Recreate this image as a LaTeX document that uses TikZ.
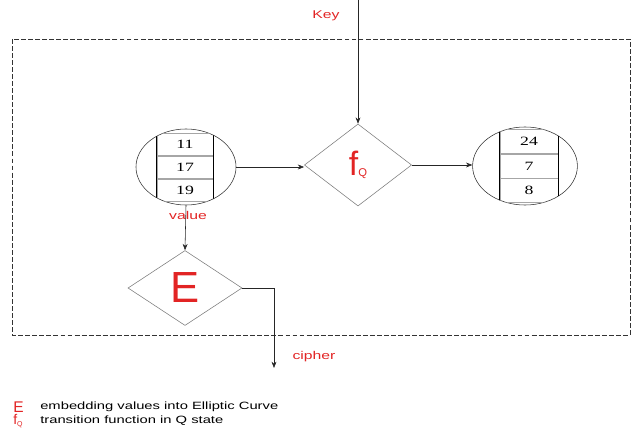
\documentclass[tikz,border=0pt]{standalone}
\usepackage{fontspec}
\usepackage{graphicx}
\setmainfont{Liberation Sans}
\newfontfamily\numfont{Liberation Serif}
\usetikzlibrary{shapes.geometric,arrows.meta,positioning}

\definecolor{keyred}{RGB}{226,36,36}
\definecolor{edgegray}{RGB}{125,125,125}
\newcommand{\wtxt}[1]{\scalebox{1.4}[1]{#1}}

\tikzset{
  lbl/.style={text=keyred, inner sep=0, font=\fontsize{8}{9}\selectfont},
  legend/.style={inner sep=0, anchor=west, font=\fontsize{7.5}{9}\selectfont},
  proc/.style={diamond, draw=edgegray, inner sep=0, text=keyred},
  store/.style={ellipse, draw=black!80, inner sep=0},
  cell/.style={draw=black!35, inner sep=0, font=\numfont\fontsize{9}{10}\selectfont},
  flow/.style={draw=black!85, -{Stealth[length=4.5pt,width=3.5pt]}}
}

\begin{document}
\begin{tikzpicture}[x=0.025cm, y=-0.025cm]
\useasboundingbox (0,0) rectangle (632,432);

% outer frame
\draw[black!80, dash pattern=on 3.5pt off 1.5pt] (12,39) rectangle (630,335);

% stores
\node[store, minimum width=2.5cm, minimum height=1.9cm] (vin) at (186,167) {};
\node[store, minimum width=2.62cm, minimum height=1.95cm] (vout) at (525,166) {};

\begin{scope}
\clip (vin.center) ellipse [x radius=1.25cm, y radius=0.95cm];
\node[cell, minimum width=1.4cm, minimum height=0.56cm] (a2) at (185,167.5) {\wtxt{17}};
\node[cell, minimum width=1.4cm, minimum height=0.56cm, above=0pt of a2] (a1) {\wtxt{11}};
\node[cell, minimum width=1.4cm, minimum height=0.56cm, below=0pt of a2] (a3) {\wtxt{19}};
\draw (a1.north west) -- (a3.south west) (a1.north east) -- (a3.south east);
\end{scope}

\begin{scope}
\clip (vout.center) ellipse [x radius=1.31cm, y radius=0.975cm];
\node[cell, minimum width=1.45cm, minimum height=0.6cm] (b2) at (529,166) {\wtxt{7}};
\node[cell, minimum width=1.45cm, minimum height=0.6cm, above=0pt of b2] (b1) {\wtxt{24}};
\node[cell, minimum width=1.45cm, minimum height=0.6cm, below=0pt of b2] (b3) {\wtxt{8}};
\draw (b1.north west) -- (b3.south west) (b1.north east) -- (b3.south east);
\end{scope}

% processes
\node[proc, minimum width=2.68cm, minimum height=2.05cm] (fq) at (358,165)
  {\fontsize{24}{24}\selectfont f\raisebox{-1pt}{\fontsize{8}{8}\selectfont Q}};
\node[proc, minimum width=2.85cm, minimum height=1.875cm] (enc) at (185,288)
  {\fontsize{31}{31}\selectfont E};

% labels
\node[lbl] (key) at (326,16) {\wtxt{Key}};
\node[lbl] (val) at (188,215) {\wtxt{value}};
\node[lbl] (ciph) at (314,357) {\wtxt{cipher}};

\coordinate (keyin) at (358,0);
\coordinate (cout) at (274,368);

% connectors
\draw[flow] (keyin) -- (fq.north);
\draw[flow] (vin.east) -- (vin.east -| fq.west);
\draw[flow] (fq.east) -- (fq.east -| vout.west);
\draw[flow] (vin.south) -- (enc.north);
\draw[flow] (enc.east) -| (cout);

% legend
\node[legend, text=keyred, font=\fontsize{11}{11}\selectfont] (lgE) at (13,407) {E};
\node[legend, text=keyred] (lgF) at (13,421) {\fontsize{10}{10}\selectfont f\raisebox{-1pt}{\fontsize{5}{5}\selectfont Q}};
\node[legend] (lgEt) at (40,407) {\wtxt{embedding values into Elliptic Curve}};
\node[legend] (lgFt) at (40,421) {\wtxt{transition function in Q state}};
\end{tikzpicture}
\end{document}
